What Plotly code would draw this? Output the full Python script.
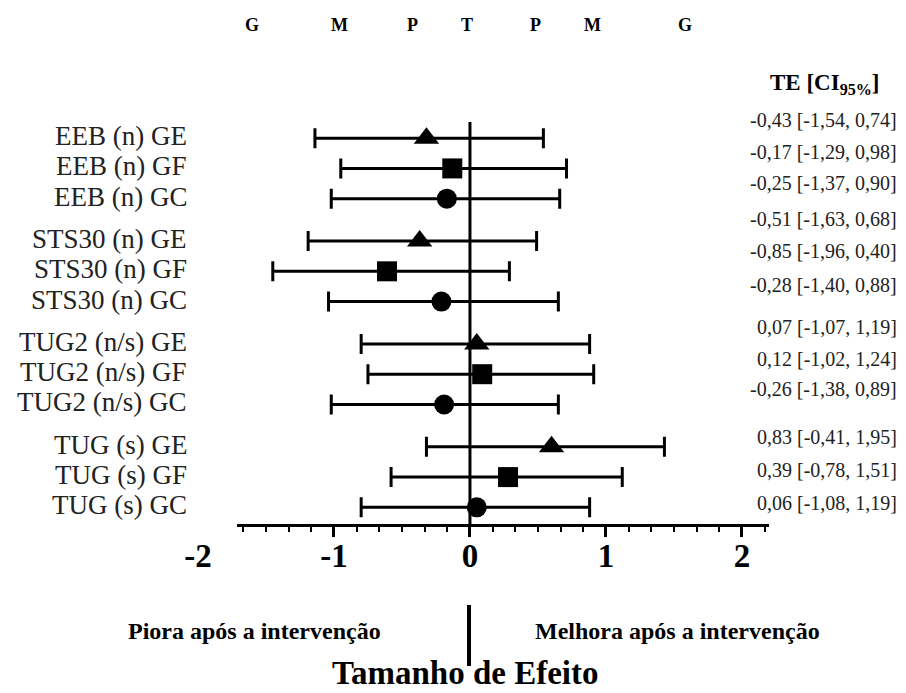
import plotly.graph_objects as go

# ---------------- data ----------------
tests = ["EEB (n)", "STS30 (n)", "TUG2 (n/s)", "TUG (s)"]
groups = ["GE", "GF", "GC"]
symbols = {"GE": "triangle-up", "GF": "square", "GC": "circle"}

# effect sizes and CI as drawn in the figure
est = [-0.32, -0.13, -0.17,
       -0.37, -0.61, -0.21,
        0.05,  0.09, -0.19,
        0.60,  0.28,  0.05]
lo = [-1.14, -0.95, -1.02,
      -1.19, -1.45, -1.04,
      -0.80, -0.75, -1.02,
      -0.32, -0.58, -0.80]
hi = [0.54, 0.71, 0.66,
      0.49, 0.29, 0.65,
      0.88, 0.91, 0.65,
      1.43, 1.12, 0.88]

# printed TE [CI95%] column
te_text = ["-0,43 [-1,54, 0,74]", "-0,17 [-1,29, 0,98]", "-0,25 [-1,37, 0,90]",
           "-0,51 [-1,63, 0,68]", "-0,85 [-1,96, 0,40]", "-0,28 [-1,40, 0,88]",
           "0,07 [-1,07, 1,19]", "0,12 [-1,02, 1,24]", "-0,26 [-1,38, 0,89]",
           "0,83 [-0,41, 1,95]", "0,39 [-0,78, 1,51]", "0,06 [-1,08, 1,19]"]

mag_labels = ["G", "M", "P", "T", "P", "M", "G"]
mag_pos = [-1.60, -0.96, -0.42, -0.02, 0.48, 0.90, 1.58]

xtick_vals = [-2, -1, 0, 1, 2]
xtick_text = ["-2", "-1", "0", "1", "2"]

# ---------------- layout helpers ----------------
W, H = 906, 693
PL, PR, PT, PB = 164, 780, 120, 524
XR = [-2.25, 2.28]
YR = [12.75, -0.6]

def pxx(p):
    return (p - PL) / (PR - PL)

def pyy(p):
    return (PB - p) / (PB - PT)

def x_to_px(v):
    return PL + (v - XR[0]) / (XR[1] - XR[0]) * (PR - PL)

rows_y = []
labels = []
syms = []
for g, t in enumerate(tests):
    for i, grp in enumerate(groups):
        rows_y.append(g * 3.4 + i)
        labels.append(f"{t} {grp}")
        syms.append(symbols[grp])

err_plus = [h - e for h, e in zip(hi, est)]
err_minus = [e - l for e, l in zip(est, lo)]

SERIF = "Liberation Serif, Times New Roman, serif"

fig = go.Figure()

# secondary (drawn) axis carrier trace, added first so it sits below
AX_LO, AX_HI = -1.71, 2.20
fig.add_trace(go.Scatter(x=[AX_LO, AX_HI], y=[-10, -10], xaxis="x2", yaxis="y",
                         mode="markers", marker=dict(opacity=0, size=1), showlegend=False,
                         hoverinfo="skip"))

fig.add_trace(go.Scatter(
    x=est, y=rows_y, mode="markers",
    marker=dict(symbol=syms, size=[22 if s == "triangle-up" else 20 for s in syms],
                color="black", opacity=1, line=dict(width=0)),
    error_x=dict(type="data", symmetric=False, array=err_plus, arrayminus=err_minus,
                 color="black", thickness=3, width=10),
    showlegend=False, hoverinfo="skip",
))

d0 = pxx(x_to_px(AX_LO))
d1 = pxx(x_to_px(AX_HI))

annotations = []
# row labels
for y, lab in zip(rows_y, labels):
    annotations.append(dict(x=pxx(189), xref="paper", y=y, yref="y", yshift=2,
                            text=lab, showarrow=False, xanchor="right",
                            font=dict(family=SERIF, size=27, color="#222")))
# TE column
te_pix = [120, 152, 183, 219, 251, 285, 327, 359, 389, 437, 470, 503]
for yp, txt in zip(te_pix, te_text):
    annotations.append(dict(x=pxx(899), xref="paper", y=pyy(yp), yref="paper",
                            text=txt, showarrow=False, xanchor="right", yanchor="middle",
                            font=dict(family=SERIF, size=20, color="#222")))
annotations.append(dict(x=pxx(825), xref="paper", y=pyy(84), yref="paper",
                        text="<b>TE [CI<sub>95%</sub>]</b>", showarrow=False,
                        xanchor="center", yanchor="middle",
                        font=dict(family=SERIF, size=23, color="black")))
# magnitude letters
for lab, pos in zip(mag_labels, mag_pos):
    annotations.append(dict(x=pos, xref="x", y=pyy(25), yref="paper",
                            text=f"<b>{lab}</b>", showarrow=False,
                            xanchor="center", yanchor="middle",
                            font=dict(family=SERIF, size=18, color="black")))
# bottom texts
annotations.append(dict(x=pxx(254), xref="paper", y=pyy(631), yref="paper",
                        text="<b>Piora após a intervenção</b>", showarrow=False,
                        xanchor="center", yanchor="middle",
                        font=dict(family=SERIF, size=24, color="black")))
annotations.append(dict(x=pxx(677), xref="paper", y=pyy(631), yref="paper",
                        text="<b>Melhora após a intervenção</b>", showarrow=False,
                        xanchor="center", yanchor="middle",
                        font=dict(family=SERIF, size=24, color="black")))
annotations.append(dict(x=pxx(465), xref="paper", y=pyy(673), yref="paper",
                        text="<b>Tamanho de Efeito</b>", showarrow=False,
                        xanchor="center", yanchor="middle",
                        font=dict(family=SERIF, size=33, color="black")))

shapes = [
    dict(type="line", xref="x", yref="paper", x0=0, x1=0, y0=0, y1=pyy(122),
         line=dict(color="black", width=3), layer="below"),
    dict(type="line", xref="paper", yref="paper", x0=pxx(469), x1=pxx(469),
         y0=pyy(605), y1=pyy(666), line=dict(color="black", width=4)),
]

fig.update_layout(
    width=W, height=H,
    margin=dict(l=PL, r=W - PR, t=PT, b=H - PB, pad=0),
    paper_bgcolor="white", plot_bgcolor="rgba(0,0,0,0)",
    showlegend=False,
    xaxis=dict(range=XR, showgrid=False, zeroline=False, showline=False,
               tickmode="array", tickvals=xtick_vals, ticktext=xtick_text,
               ticks="", ticklabelstandoff=9,
               tickfont=dict(family=SERIF, size=33, color="black", weight="bold")),
    xaxis2=dict(range=[AX_LO, AX_HI], domain=[d0, d1], anchor="y",
                showgrid=False, zeroline=False, showline=True, linecolor="black",
                linewidth=3, tickmode="linear", tick0=0, dtick=1,
                ticks="outside", ticklen=10, tickwidth=3, tickcolor="black",
                showticklabels=False,
                minor=dict(tick0=0, dtick=1 / 6, ticks="outside", ticklen=5,
                           tickwidth=2, tickcolor="black")),
    yaxis=dict(range=YR, showgrid=False, zeroline=False, showline=False,
               showticklabels=False, ticks=""),
    annotations=annotations,
    shapes=shapes,
)

fig.write_html("out.html")
